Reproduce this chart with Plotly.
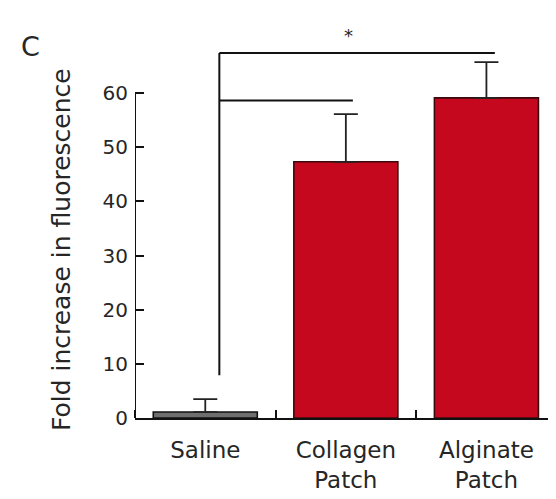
import plotly.graph_objects as go

categories = ["Saline", "Collagen<br>Patch", "Alginate<br>Patch"]
means = [1.1, 47.3, 59.1]
errors_up = [2.4, 8.8, 6.6]
y_ticks = [0, 10, 20, 30, 40, 50, 60]
panel_label = "C"
y_title = "Fold increase in fluorescence"
sig_mark = "*"

x_idx = list(range(len(categories)))
FONT = "DejaVu Sans"
TXT = "#262626"

fig = go.Figure()
fig.add_trace(go.Bar(
    x=x_idx, y=means, width=0.74,
    marker=dict(color=["#6e6e6e", "#c6081f", "#c6081f"],
                line=dict(color=["#111111", "#3a0a0e", "#3a0a0e"], width=1.6)),
    error_y=dict(type="data", symmetric=False, array=errors_up,
                 arrayminus=[0] * len(means), color="#222222",
                 thickness=1.8, width=12),
    showlegend=False,
))

# y axis line (only up to top tick)
fig.add_shape(type="line", xref="x", yref="y", x0=-0.5, x1=-0.5,
              y0=y_ticks[0], y1=y_ticks[-1], line=dict(color="#111", width=2))

# significance brackets
bx = 0.1
fig.add_shape(type="line", x0=bx, x1=bx, y0=7.9, y1=67.4, line=dict(color="#111", width=2))
fig.add_shape(type="line", x0=bx, x1=2.06, y0=67.4, y1=67.4, line=dict(color="#111", width=2))
fig.add_shape(type="line", x0=bx, x1=1.05, y0=58.6, y1=58.6, line=dict(color="#111", width=2))

fig.add_annotation(x=1.02, y=71.4, text=sig_mark, showarrow=False,
                   font=dict(family=FONT, size=18, color=TXT), yanchor="middle", yshift=-4)

fig.add_annotation(xref="paper", yref="paper", x=-0.173, y=0.41, text=y_title,
                   textangle=-90, showarrow=False, xanchor="center", yanchor="middle",
                   font=dict(family=FONT, size=25, color=TXT))

fig.add_annotation(xref="paper", yref="paper", x=-0.249, y=0.905, text=panel_label,
                   showarrow=False, xanchor="center", yanchor="middle",
                   font=dict(family=FONT, size=27, color=TXT))

fig.update_layout(
    width=548, height=491,
    margin=dict(l=127, r=0, t=0, b=81),
    plot_bgcolor="white", paper_bgcolor="white",
)
fig.update_xaxes(
    range=[-0.5, 2.495], tickmode="array", tickvals=x_idx, ticktext=categories,
    ticks="", showline=True, linecolor="#111", linewidth=2, showgrid=False,
    zeroline=False, tickfont=dict(family=FONT, size=23, color=TXT),
    ticklabelstandoff=10,
    minor=dict(ticks="inside", tick0=0.5, dtick=1, ticklen=8, tickwidth=2, tickcolor="#111"),
    fixedrange=True,
)
fig.update_yaxes(
    range=[0, 75.69], tickmode="array", tickvals=y_ticks,
    ticks="inside", ticklen=9, tickwidth=2, tickcolor="#111",
    showline=False, showgrid=False, zeroline=False,
    tickfont=dict(family=FONT, size=20, color=TXT), ticklabelstandoff=6,
    fixedrange=True,
)

fig.write_html("out.html")
